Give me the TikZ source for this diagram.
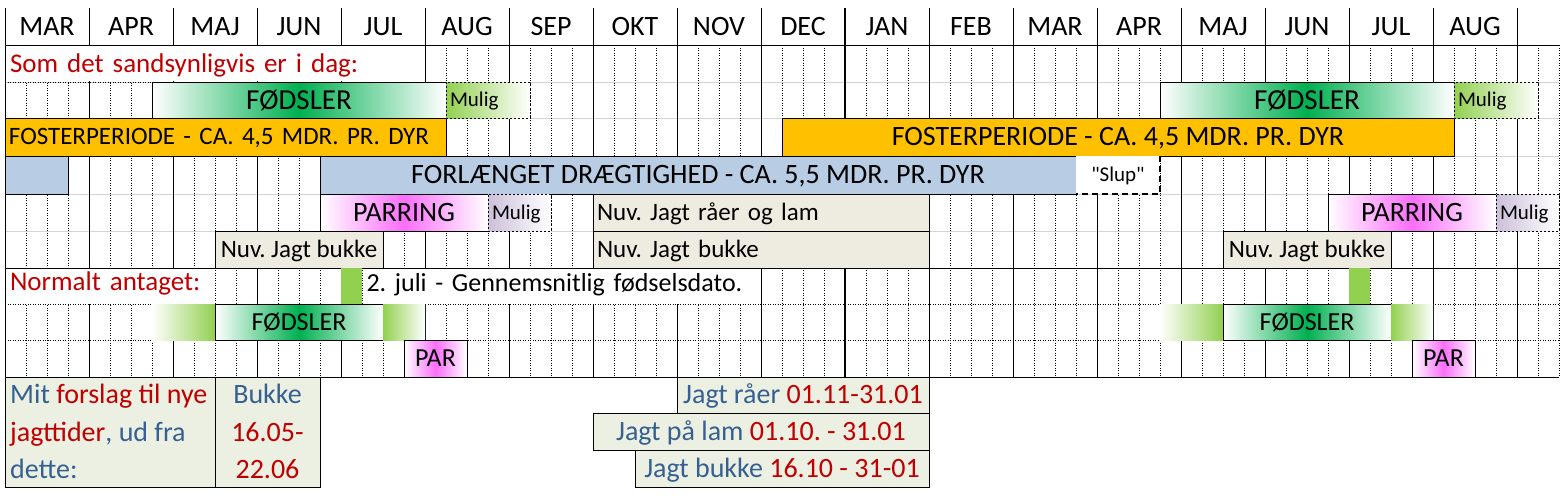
\documentclass[tikz,border=0pt]{standalone}
\usepackage{fontspec}
\setmainfont{Carlito}[Ligatures=TeXOff]
\usepackage{xcolor}
\usepackage{tikz}
\usetikzlibrary{positioning}

\definecolor{textred}{RGB}{192,0,0}
\definecolor{textblue}{RGB}{54,96,146}
\definecolor{fodgreen}{RGB}{0,176,80}
\definecolor{liggreen}{RGB}{146,208,80}
\definecolor{fosterorange}{RGB}{255,192,0}
\definecolor{draegblue}{RGB}{184,204,228}
\definecolor{parpink}{RGB}{250,110,250}
\definecolor{muliglilac}{RGB}{204,192,218}
\definecolor{jagtbeige}{RGB}{238,236,225}
\definecolor{forslagbeige}{RGB}{236,240,226}
\definecolor{gridgray}{RGB}{212,212,212}

\newcommand{\pxfont}[1]{\fontsize{#1}{#1}\selectfont}
\frenchspacing

\begin{document}
\begin{tikzpicture}[x=1pt, y=-1pt,
    solidline/.style={line width=0.8pt},
    dotline/.style={line width=0.8pt, dash pattern=on 1pt off 1.5pt},
    f29/.style={font=\pxfont{29}, text height=18.3pt, text depth=0pt},
    f28/.style={font=\pxfont{28}, text height=17.7pt, text depth=0pt},
    f27/.style={font=\pxfont{27}, text height=17.1pt, text depth=0pt},
    f26/.style={font=\pxfont{26}, text height=16.4pt, text depth=0pt},
    f25/.style={font=\pxfont{25}, text height=15.8pt, text depth=0pt},
    f21/.style={font=\pxfont{21}, text height=13.3pt, text depth=0pt},
    bar/.style={anchor=north west, inner xsep=4pt, inner ysep=0pt, outer sep=0pt},
    edge/.style={draw, line width=1pt},
    fodsel/.style={bar, edge, left color=white, right color=white, middle color=fodgreen},
    parring/.style={bar, edge, left color=white, right color=white, middle color=parpink},
    fadein/.style={bar, left color=white, right color=liggreen},
    fadeout/.style={bar, left color=liggreen, right color=white},
    mulig/.style={bar, f21, draw, line width=0.8pt, dash pattern=on 2pt off 2pt, align=left},
    jagt/.style={bar, edge, fill=jagtbeige, f25},
    forslag/.style={bar, edge, fill=forslagbeige, f28, text=textblue},
    propline/.style={anchor=base west, inner sep=0pt, f28, text=textblue}
]
\useasboundingbox (0,0) rectangle (1564,499);

% Month header
\foreach \m [count=\i from 0] in {MAR,APR,MAJ,JUN,JUL,AUG,SEP,OKT,NOV,DEC,JAN,FEB,MAR,APR,MAJ,JUN,JUL,AUG}
  \node[f28, inner sep=0pt] (m\i) at ({47+84*\i},26.5) {\m};

% Grid: weeks dotted, months solid
\foreach \y in {82,118,156,194,231} \draw[gridgray, line width=0.8pt] (5,\y) -- (1559,\y);
\foreach \c in {1,...,74} \draw[dotline] ({5+21*\c},45) -- ({5+21*\c},377);
\foreach \c in {0,4,...,72} \draw[solidline] ({5+21*\c},8) -- ({5+21*\c},377);
\draw[line width=2.2pt] (845,8) -- (845,377);
\draw[solidline] (5,45) -- (1559,45);
\draw[dotline] (5,82) -- (152,82);
\draw[solidline] (5,268) -- (1559,268);
\foreach \y in {304,340} \draw[dotline] (5,\y) -- (1559,\y);
\draw[solidline] (5,377) -- (1559,377);

% Som det sandsynligvis er i dag
\node[bar, f27, fill=white, text width=410, align=left, minimum height=35, text=textred] (idag) at (6,46) {Som det sandsynligvis er i dag:};

\node[fodsel, f29, minimum width=294, minimum height=36] (fod1) at (152,82) {FØDSLER};
\node[mulig, left color=liggreen, right color=white, text width=76, minimum height=36] (mulig1) at (446,82) {Mulig};
\node[fodsel, f29, minimum width=294, minimum height=36] (fod4) at (1160,82) {FØDSLER};
\node[mulig, left color=liggreen, right color=white, text width=76, minimum height=36] (mulig3) at (1454,82) {Mulig};

\node[bar, edge, fill=fosterorange, f25, text width=433, align=left, minimum height=38] (foster1) at (5,118) {FOSTERPERIODE - CA. 4,5 MDR. PR. DYR};
\node[bar, edge, fill=fosterorange, f28, minimum width=672, minimum height=38] (foster2) at (782,118) {FOSTERPERIODE - CA. 4,5 MDR. PR. DYR};

\node[bar, edge, fill=draegblue, minimum width=63, minimum height=38] (draeg0) at (5,156) {};
\node[bar, edge, fill=draegblue, f28, minimum width=756, minimum height=38] (draeg1) at (320,156) {FORLÆNGET DRÆGTIGHED - CA. 5,5 MDR. PR. DYR};
\node[bar, fill=white, f21, minimum width=84, minimum height=38] (slup) at (1076,156) {"Slup"};
\draw[line width=2pt, dash pattern=on 6pt off 4pt] (slup.north east) -- (slup.south east) -- (slup.south west);

% Parring og nuvaerende jagt
\node[parring, f28, minimum width=168, minimum height=37] (par1) at (320,194) {PARRING};
\node[mulig, left color=muliglilac, right color=white, text width=55, minimum height=37] (mulig2) at (488,194) {Mulig};
\node[jagt, text width=328, align=left, minimum height=37] (nuvraa) at (593,194) {Nuv. Jagt råer og lam};
\node[parring, f28, minimum width=168, minimum height=37] (par2) at (1328,194) {PARRING};
\node[mulig, left color=muliglilac, right color=white, text width=55, minimum height=37] (mulig4) at (1496,194) {Mulig};

\node[jagt, minimum width=168, minimum height=37] (nuvb1) at (215,231) {Nuv. Jagt bukke};
\node[jagt, text width=328, align=left, minimum height=37] (nuvb2) at (593,231) {Nuv. Jagt bukke};
\node[jagt, minimum width=168, minimum height=37] (nuvb3) at (1223,231) {Nuv. Jagt bukke};

% Normalt antaget
\node[bar, f27, text depth=8pt, fill=white, text width=201, align=left, minimum height=35, text=textred] (normalt) at (6,268.6) {Normalt antaget:};
\node[bar, fill=liggreen, minimum width=21, minimum height=36] (snit1) at (341,268) {};
\node[bar, f26, text depth=6pt, fill=white, text width=389, align=left, minimum height=35] (snittekst) at (362.5,268.6) {2. juli - Gennemsnitlig fødselsdato.};
\node[bar, fill=liggreen, minimum width=21, minimum height=36] (snit2) at (1349,268) {};

\node[fadein, minimum width=63, minimum height=36] (fodpre1) at (152,304) {};
\node[fodsel, f26, minimum width=168, minimum height=36] (fod2) at (215,304) {FØDSLER};
\node[fadeout, minimum width=42, minimum height=36] (fodpost1) at (383,304) {};
\node[fadein, minimum width=63, minimum height=36] (fodpre2) at (1160,304) {};
\node[fodsel, f26, minimum width=168, minimum height=36] (fod3) at (1223,304) {FØDSLER};
\node[fadeout, minimum width=42, minimum height=36] (fodpost2) at (1391,304) {};

\node[parring, f26, minimum width=63, minimum height=37] (par3) at (404,340) {PAR};
\node[parring, f26, minimum width=63, minimum height=37] (par4) at (1412,340) {PAR};

% Forslag til nye jagttider
\node[forslag, minimum width=210, minimum height=110] (forslagcelle) at (5,377) {};
\node[forslag, minimum width=105, minimum height=110] (bukkecelle) at (215,377) {};
\node[propline] (forslag1) at (10,403) {Mit \textcolor{textred}{forslag til nye}};
\node[propline] (forslag2) at (10,441) {\textcolor{textred}{jagttider}, ud fra};
\node[propline] (forslag3) at (10,478) {dette:};
\node[propline, anchor=base] (bukke1) at (267.5,403) {Bukke};
\node[propline, anchor=base, text=textred] (bukke2) at (267.5,441) {16.05-};
\node[propline, anchor=base, text=textred] (bukke3) at (267.5,478) {22.06};

\node[forslag, minimum width=252, minimum height=36] (jagtraa) at (677,377) {Jagt råer \textcolor{textred}{01.11-31.01}};
\node[forslag, minimum width=336, minimum height=37] (jagtlam) at (593,413) {Jagt på lam \textcolor{textred}{01.10. - 31.01}};
\node[forslag, minimum width=294, minimum height=37] (jagtbukke) at (635,450) {Jagt bukke \textcolor{textred}{16.10 - 31-01}};

\end{tikzpicture}
\end{document}
